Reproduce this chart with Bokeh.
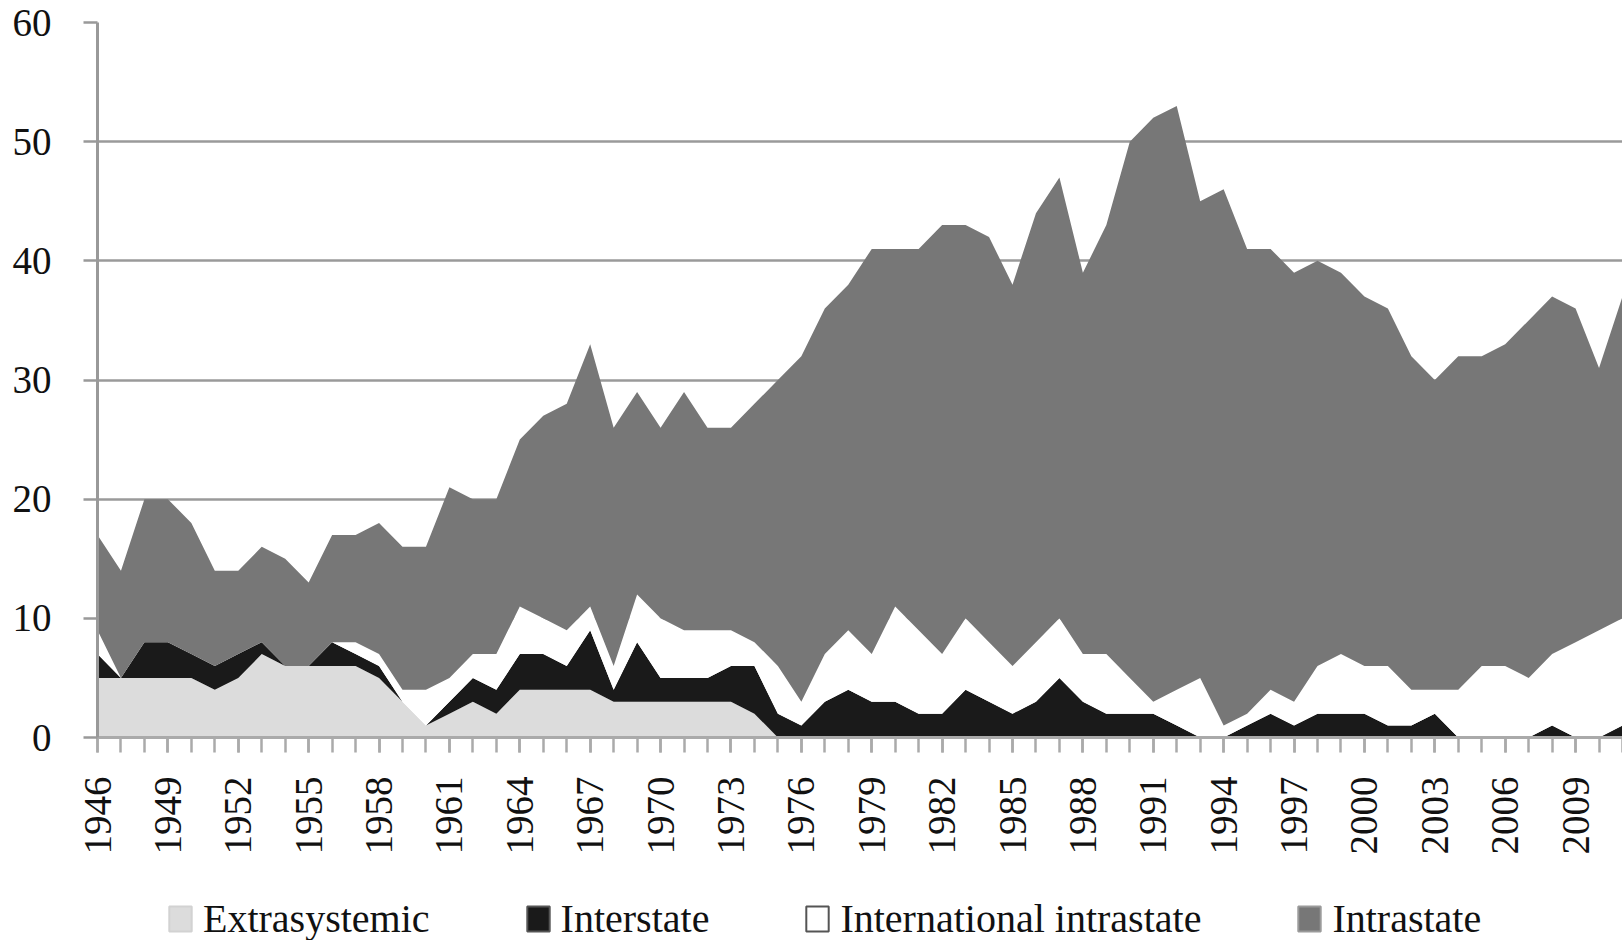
import math
from bokeh.plotting import figure
from bokeh.layouts import column
from bokeh.models import ColumnDataSource, Range1d, FixedTicker, Legend, LegendItem
from bokeh.embed import file_html
from bokeh.resources import INLINE

years = list(range(1946, 2012))
label_years = list(range(1946, 2012, 3))
y_ticks = [0, 10, 20, 30, 40, 50, 60]

extrasystemic = [5, 5, 5, 5, 5, 4, 5, 7, 6, 6, 6, 6, 5, 3, 1, 2, 3, 2, 4, 4,
                 4, 4, 3, 3, 3, 3, 3, 3, 2, 0, 0, 0, 0, 0, 0, 0, 0, 0, 0, 0,
                 0, 0, 0, 0, 0, 0, 0, 0, 0, 0, 0, 0, 0, 0, 0, 0, 0, 0, 0, 0,
                 0, 0, 0, 0, 0, 0]
interstate = [2, 0, 3, 3, 2, 2, 2, 1, 0, 0, 2, 1, 1, 0, 0, 1, 2, 2, 3, 3,
              2, 5, 1, 5, 2, 2, 2, 3, 4, 2, 1, 3, 4, 3, 3, 2, 2, 4, 3, 2,
              3, 5, 3, 2, 2, 2, 1, 0, 0, 1, 2, 1, 2, 2, 2, 1, 1, 2, 0, 0,
              0, 0, 1, 0, 0, 1]
international_intrastate = [2, 0, 0, 0, 0, 0, 0, 0, 0, 0, 0, 1, 1, 1, 3, 2, 2, 3, 4, 3,
                            3, 2, 2, 4, 5, 4, 4, 3, 2, 4, 2, 4, 5, 4, 8, 7, 5, 6, 5, 4,
                            5, 5, 4, 5, 3, 1, 3, 5, 1, 1, 2, 2, 4, 5, 4, 5, 3, 2, 4, 6,
                            6, 5, 6, 8, 9, 9]
intrastate = [8, 9, 12, 12, 11, 8, 7, 8, 9, 7, 9, 9, 11, 12, 12, 16, 13, 13, 14, 17,
              19, 22, 20, 17, 16, 20, 17, 17, 20, 24, 29, 29, 29, 34, 30, 32, 36, 33, 34, 32,
              36, 37, 32, 36, 45, 49, 49, 40, 45, 39, 37, 36, 34, 32, 31, 30, 28, 26, 28, 26,
              27, 30, 30, 28, 22, 27]

series_names = ["Extrasystemic", "Interstate", "International intrastate", "Intrastate"]
fill_colors = ["#dcdcdc", "#1a1a1a", "#ffffff", "#777777"]
swatch_lines = ["#d2d2d2", "#555555", "#555555", "#9a9a9a"]

source = ColumnDataSource(dict(
    year=years,
    extra=extrasystemic,
    inter=interstate,
    intl=international_intrastate,
    intra=intrastate,
))

FONT = "Liberation Serif"

p = figure(width=1622, height=880, output_backend="svg", toolbar_location=None,
           x_range=Range1d(1946, 2011), y_range=Range1d(0, 60),
           min_border_left=97, min_border_right=0, min_border_top=22,
           min_border_bottom=143,
           background_fill_color="white", border_fill_color="white",
           outline_line_color=None)

areas = p.varea_stack(stackers=["extra", "inter", "intl", "intra"], x="year",
                      color=fill_colors, source=source)

# x axis
p.xaxis.ticker = FixedTicker(ticks=label_years, minor_ticks=years)
p.xaxis.major_label_orientation = math.pi / 2
p.xaxis.major_label_text_font = FONT
p.xaxis.major_label_text_font_size = "39px"
p.xaxis.major_label_text_color = "#111111"
p.xaxis.major_label_standoff = 24
p.xaxis.major_tick_in = 0
p.xaxis.major_tick_out = 15
p.xaxis.minor_tick_in = 0
p.xaxis.minor_tick_out = 15
p.xaxis.major_tick_line_color = "#aaaaaa"
p.xaxis.minor_tick_line_color = "#aaaaaa"
p.xaxis.major_tick_line_width = 2.5
p.xaxis.minor_tick_line_width = 2.5
p.xaxis.axis_line_color = "#aaaaaa"
p.xaxis.axis_line_width = 3

# y axis
p.yaxis.ticker = FixedTicker(ticks=y_ticks)
p.yaxis.minor_tick_line_color = None
p.yaxis.major_tick_in = 0
p.yaxis.major_tick_out = 14
p.yaxis.major_tick_line_color = "#999999"
p.yaxis.major_tick_line_width = 2.5
p.yaxis.axis_line_color = "#999999"
p.yaxis.axis_line_width = 3
p.yaxis.major_label_text_font = FONT
p.yaxis.major_label_text_font_size = "39px"
p.yaxis.major_label_text_color = "#111111"
p.yaxis.major_label_standoff = 32

p.xgrid.grid_line_color = None
p.ygrid.ticker = FixedTicker(ticks=y_ticks)
p.ygrid.grid_line_color = "#9a9a9a"
p.ygrid.grid_line_width = 2.5

# legend strip below the chart
lg = figure(width=1622, height=60, output_backend="svg", toolbar_location=None,
            x_range=Range1d(0, 1), y_range=Range1d(0, 1),
            x_axis_location=None, y_axis_location=None,
            min_border=0, outline_line_color=None,
            background_fill_color="white", border_fill_color="white")
lg.xgrid.visible = False
lg.ygrid.visible = False

nan_src = ColumnDataSource(dict(x=[float("nan")], y=[float("nan")]))
items = []
for name, fc, lc in zip(series_names, fill_colors, swatch_lines):
    d = lg.rect(x="x", y="y", width=1, height=1, source=nan_src,
                fill_color=fc, line_color=lc, line_width=2)
    items.append(LegendItem(label=name, renderers=[d]))

legend = Legend(items=items, location=(69, -2), orientation="horizontal",
                spacing=94, padding=0, margin=0,
                glyph_width=28, glyph_height=31, label_standoff=9,
                label_text_font=FONT, label_text_font_size="40px",
                label_text_color="#111111",
                border_line_color=None, background_fill_alpha=0)
lg.add_layout(legend)

layout = column(p, lg, spacing=0)
open("out.html", "w").write(file_html(layout, INLINE))
